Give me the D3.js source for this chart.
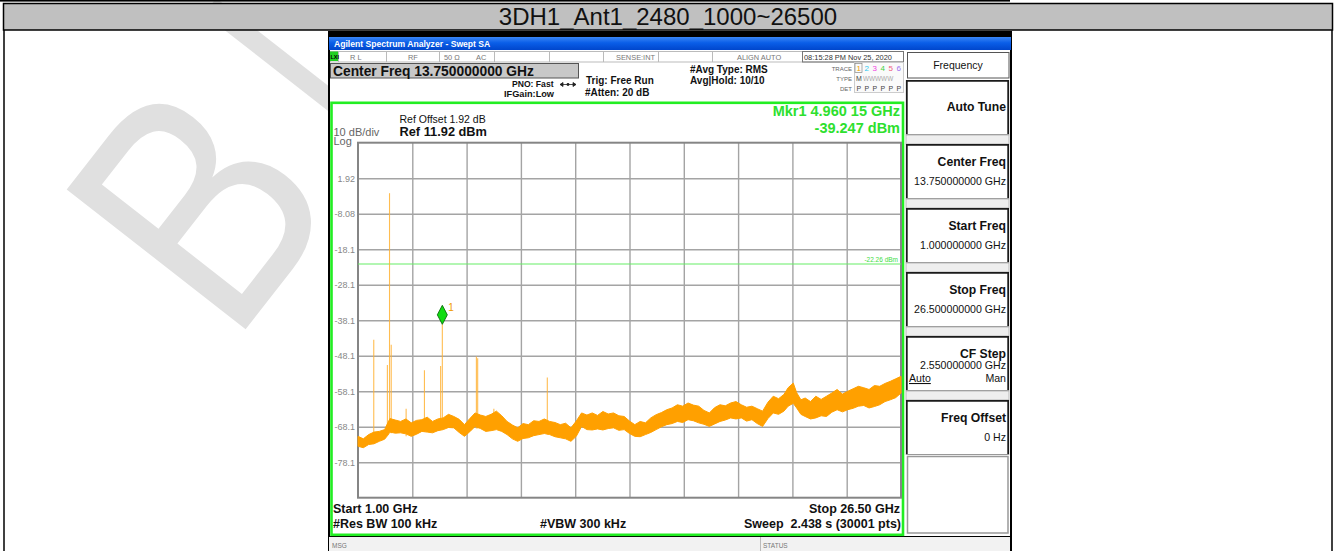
<!DOCTYPE html>
<html>
<head>
<meta charset="utf-8">
<script src="https://cdn.jsdelivr.net/npm/d3@7"></script>
<style>
body { margin: 0; background: #fff; }
svg { display: block; font-family: 'Liberation Sans', Arial, sans-serif; }
</style>
</head>
<body>
<svg width="1336" height="551"></svg>
<script>
// ---- values ----
const title = '3DH1_Ant1_2480_1000~26500';
const startGHz = 1.0, stopGHz = 26.5;
const refLevel = 11.92;          // dBm, top of grid
const yTickValues = [1.92, -8.08, -18.08, -28.08, -38.08, -48.08, -58.08, -68.08, -78.08];
const yTickLabels = ['1.92', '-8.08', '-18.1', '-28.1', '-38.1', '-48.1', '-58.1', '-68.1', '-78.1'];

// noise floor envelope (GHz, dBm)
const noiseFreq = [1.00, 1.25, 1.50, 1.75, 2.00, 2.25, 2.40, 2.50, 2.75, 3.00, 3.25, 3.50, 3.75, 4.00, 4.25, 4.50, 4.75,
  5.00, 5.25, 5.50, 5.75, 6.00, 6.25, 6.50, 6.75, 7.00, 7.25, 7.50, 7.75, 8.00, 8.25, 8.50, 8.75, 9.00, 9.25, 9.50, 9.75,
  10.00, 10.25, 10.50, 10.75, 11.00, 11.25, 11.50, 11.75, 12.00, 12.25, 12.50, 12.75, 13.00, 13.25, 13.50, 13.75,
  14.00, 14.25, 14.50, 14.75, 15.00, 15.25, 15.50, 15.75, 16.00, 16.25, 16.50, 16.75, 17.00, 17.25, 17.50, 17.75,
  18.00, 18.25, 18.50, 18.75, 19.00, 19.25, 19.50, 19.75, 20.00, 20.25, 20.50, 20.75, 21.00, 21.20, 21.44, 21.60, 21.80,
  22.00, 22.25, 22.50, 22.75, 23.00, 23.25, 23.50, 23.75, 24.00, 24.25, 24.50, 24.75, 25.00, 25.25, 25.50, 25.75,
  26.00, 26.25, 26.50];
const noiseTop = [-70.8, -71.5, -70.3, -69.6, -69.4, -68.9, -67.0, -65.8, -66.2, -66.6, -65.9, -67.0, -66.3, -66.1, -65.4, -66.6, -65.9,
  -65.6, -64.6, -65.2, -66.0, -67.5, -65.8, -64.2, -64.8, -65.2, -64.6, -63.7, -65.0, -66.6, -67.6, -68.4, -67.2, -67.5, -66.4, -66.6, -65.9,
  -66.6, -66.9, -67.5, -67.1, -68.4, -66.5, -64.2, -64.8, -64.2, -64.9, -63.8, -64.5, -64.2, -65.0, -65.2, -66.5,
  -67.5, -66.6, -67.0, -65.6, -64.7, -64.1, -63.3, -62.8, -61.9, -62.3, -61.4, -62.0, -62.3, -63.5, -64.2, -62.7,
  -61.9, -62.2, -61.4, -61.0, -61.9, -62.6, -62.3, -63.0, -63.7, -61.2, -59.5, -60.2, -59.0, -57.1, -55.8, -58.5, -60.5,
  -60.0, -61.0, -59.5, -60.4, -59.5, -58.6, -57.6, -58.9, -58.1, -57.4, -56.7, -57.1, -57.6, -56.5, -56.7, -55.9,
  -55.3, -54.6, -53.9];
const noiseBot = [-73.6, -74.0, -73.1, -72.9, -72.2, -71.6, -70.5, -69.6, -69.9, -69.8, -70.1, -70.8, -70.2, -69.4, -69.6, -69.8, -69.2,
  -68.9, -68.3, -68.4, -69.7, -70.8, -69.5, -68.0, -68.6, -69.4, -69.2, -68.9, -69.4, -70.3, -71.5, -72.2, -71.4, -71.2, -70.6, -70.3, -70.0,
  -70.3, -70.9, -71.2, -71.5, -72.2, -70.8, -68.0, -68.9, -69.0, -68.7, -69.0, -68.6, -68.4, -69.1, -68.9, -70.0,
  -70.8, -70.9, -70.3, -69.7, -68.9, -68.1, -67.5, -67.2, -66.6, -66.9, -66.1, -66.4, -67.0, -67.4, -68.0, -67.3,
  -66.6, -66.2, -65.6, -65.9, -65.6, -66.5, -66.1, -67.2, -68.0, -65.8, -64.2, -64.6, -63.7, -62.3, -61.5, -62.8, -64.6,
  -65.2, -65.9, -65.6, -65.0, -65.2, -64.0, -63.3, -63.9, -63.3, -62.9, -62.3, -62.1, -62.8, -62.4, -61.9, -61.0,
  -60.5, -59.9, -58.6];

// discrete spurs (GHz, peak dBm)
const spurFreq = [1.74, 2.38, 2.48, 2.56, 3.26, 4.12, 4.88, 4.96, 6.56, 6.62, 7.38, 9.89];
const spurPeak = [-43.6, -50.7, -2.3, -45.0, -63.0, -52.2, -51.0, -39.25, -48.3, -48.8, -63.0, -54.2];

const markerFreq = 4.96015, markerLevel = -39.247;
const displayLine = -22.26;

const keyTitles = ['Auto Tune', 'Center Freq', 'Start Freq', 'Stop Freq', 'CF Step', 'Freq Offset'];
const keyValues = ['', '13.750000000 GHz', '1.000000000 GHz', '26.500000000 GHz', '2.550000000 GHz', '0 Hz'];
const keyTops = [80, 144, 208, 272, 336, 400];

const traceColors = ['#f0a000', '#30c8f0', '#f040e0', '#40d040', '#f06080', '#a070f0'];

// ---- drawing ----
const svg = d3.select('svg');
const defs = svg.append('defs');
const grad = defs.append('linearGradient').attr('id', 'bar').attr('x1', 0).attr('x2', 0).attr('y1', 0).attr('y2', 1);
grad.append('stop').attr('offset', '0%').attr('stop-color', '#3a86f6');
grad.append('stop').attr('offset', '45%').attr('stop-color', '#0a5ee8');
grad.append('stop').attr('offset', '100%').attr('stop-color', '#0046cc');

// watermark behind everything (slightly squeezed glyphs, rotated)
const wm = svg.append('g').attr('transform', 'translate(229,350.5) rotate(-52)').attr('fill', '#e0e0e0').attr('font-size', 330);
wm.append('text').attr('transform', 'translate(4.5,0) scale(0.83,1)').text('B');
wm.append('text').attr('transform', 'translate(230,0) scale(0.65,1)').text('I');

// report table frame
svg.append('rect').attr('x', 0).attr('y', 0).attr('width', 1010).attr('height', 1.6).attr('fill', '#000');
svg.append('rect').attr('x', 3.5).attr('y', 3.5).attr('width', 1329).attr('height', 26.5)
  .attr('fill', '#c0c0c0').attr('stroke', '#000').attr('stroke-width', 1.5);
svg.append('text').attr('x', 668).attr('y', 25).attr('text-anchor', 'middle')
  .attr('font-size', 24).attr('fill', '#111').text(title);
svg.append('line').attr('x1', 4).attr('x2', 4).attr('y1', 30).attr('y2', 551).attr('stroke', '#000').attr('stroke-width', 1.5);
svg.append('line').attr('x1', 1332).attr('x2', 1332).attr('y1', 30).attr('y2', 551).attr('stroke', '#000').attr('stroke-width', 1.5);

// ---- analyzer screenshot ----
const sa = svg.append('g');
sa.append('rect').attr('x', 328).attr('y', 31).attr('width', 684).attr('height', 520).attr('fill', '#000');
sa.append('rect').attr('x', 329).attr('y', 37).attr('width', 682).attr('height', 13).attr('fill', 'url(#bar)');
sa.append('text').attr('x', 334).attr('y', 46.5).attr('font-size', 8.6).attr('font-weight', 'bold')
  .attr('fill', '#fff').text('Agilent Spectrum Analyzer - Swept SA');
sa.append('rect').attr('x', 330).attr('y', 50).attr('width', 680).attr('height', 486).attr('fill', '#fff');

// status row
sa.append('rect').attr('x', 330.5).attr('y', 51.5).attr('width', 573).attr('height', 10.5)
  .attr('fill', '#fff').attr('stroke', '#bbb');
[338, 386, 439, 494, 549, 603, 658, 712, 802].forEach(d => {
  sa.append('line').attr('x1', d + 0.5).attr('x2', d + 0.5).attr('y1', 51.5).attr('y2', 62).attr('stroke', '#bbb');
});
sa.append('rect').attr('x', 802.5).attr('y', 51.5).attr('width', 101).attr('height', 10.5).attr('fill', 'none').attr('stroke', '#777');
sa.append('rect').attr('x', 330).attr('y', 51.5).attr('width', 8).attr('height', 9.5).attr('fill', '#22d022');
sa.append('text').attr('x', 330.5).attr('y', 59).attr('font-size', 5.5).attr('font-weight', 'bold').attr('fill', '#000').text('LXI');
const statusTexts = [['R L', 350], ['RF', 408], ['50 Ω', 444], ['AC', 476], ['SENSE:INT', 616], ['ALIGN AUTO', 737], ['08:15:28 PM Nov 25, 2020', 804]];
statusTexts.forEach(d => {
  sa.append('text').attr('x', d[1]).attr('y', 59.5).attr('font-size', 7.4)
    .attr('fill', d[1] > 800 ? '#333' : '#777').text(d[0]);
});

// center freq box
sa.append('rect').attr('x', 330.5).attr('y', 63.5).attr('width', 248).attr('height', 14.5)
  .attr('fill', '#c8c8c8').attr('stroke', '#555');
sa.append('text').attr('x', 333).attr('y', 75.8).attr('font-size', 13.8).attr('font-weight', 'bold')
  .attr('fill', '#111').text('Center Freq 13.750000000 GHz');

const infoTexts = [
  ['PNO: Fast', 512, 87, 8.6], ['IFGain:Low', 504, 96.5, 9.2],
  ['Trig: Free Run', 586, 84.3, 10], ['#Atten: 20 dB', 585, 95.6, 10],
  ['#Avg Type: RMS', 690, 72.6, 10], ['Avg|Hold: 10/10', 690, 84.3, 10]
];
infoTexts.forEach(d => {
  sa.append('text').attr('x', d[1]).attr('y', d[2]).attr('font-size', d[3]).attr('font-weight', 'bold')
    .attr('fill', '#111').text(d[0]);
});
// PNO arrow
sa.append('path').attr('d', 'M560,84.5 L576,84.5 M560,84.5 l3,-2 v4 z M576,84.5 l-3,-2 v4 z')
  .attr('stroke', '#222').attr('stroke-width', 0.8).attr('fill', '#222');
sa.append('circle').attr('cx', 568).attr('cy', 84.5).attr('r', 1.4).attr('fill', '#222');

// trace indicator
[['TRACE', 68.5], ['TYPE', 78.5], ['DET', 89]].forEach(d => {
  sa.append('text').attr('x', 852).attr('y', d[1] + 2).attr('text-anchor', 'end')
    .attr('font-size', 6).attr('fill', '#666').text(d[0]);
});
sa.append('rect').attr('x', 854.5).attr('y', 62.5).attr('width', 49).attr('height', 30).attr('fill', '#fafafa').attr('stroke', '#ccc');
sa.append('rect').attr('x', 855).attr('y', 63.5).attr('width', 7).attr('height', 9).attr('fill', 'none').attr('stroke', '#888').attr('stroke-width', 0.7);
traceColors.forEach((c, i) => {
  sa.append('text').attr('x', 856.5 + i * 8).attr('y', 71).attr('font-size', 8).attr('fill', c).text(i + 1);
  sa.append('text').attr('x', 856.5 + i * 8).attr('y', 91).attr('font-size', 7).attr('fill', '#444').text('P');
});
sa.append('text').attr('x', 856).attr('y', 81).attr('font-size', 7).attr('fill', '#444').text('M');
sa.append('text').attr('x', 863).attr('y', 81).attr('font-size', 6.4).attr('fill', '#aaa').text('WWWWW');

// softkey panel
sa.append('rect').attr('x', 907.5).attr('y', 52.5).attr('width', 101.5).attr('height', 25.5).attr('fill', '#fff').attr('stroke', '#555');
sa.append('text').attr('x', 958).attr('y', 68.5).attr('text-anchor', 'middle').attr('font-size', 10.5).attr('fill', '#111').text('Frequency');
const keyH = 55;
keyTops.forEach((t, i) => {
  if (i > 0) {
    sa.append('rect').attr('x', 906).attr('y', keyTops[i - 1] + keyH).attr('width', 103).attr('height', t - keyTops[i - 1] - keyH)
      .attr('fill', '#eee').attr('stroke', '#aaa').attr('stroke-width', 0.8);
  }
  sa.append('rect').attr('x', 906).attr('y', t).attr('width', 103).attr('height', keyH).attr('fill', '#fff');
  sa.append('path').attr('d', `M906.8,${t + keyH} V${t + 0.8} H1008.2 V${t + keyH}`)
    .attr('fill', 'none').attr('stroke', '#1a1a1a').attr('stroke-width', 1.8);
  sa.append('line').attr('x1', 906).attr('x2', 1009).attr('y1', t + keyH - 0.5).attr('y2', t + keyH - 0.5).attr('stroke', '#999');
  const ty = i === 0 ? t + 31 : t + 22;
  sa.append('text').attr('x', 1006).attr('y', ty).attr('text-anchor', 'end').attr('font-size', 12.2)
    .attr('font-weight', 'bold').attr('fill', '#111').text(keyTitles[i]);
  if (keyValues[i]) {
    sa.append('text').attr('x', 1006).attr('y', i === 4 ? t + 33 : t + 41).attr('text-anchor', 'end')
      .attr('font-size', 10.6).attr('fill', '#111').text(keyValues[i]);
  }
});
const cf = keyTops[4];
sa.append('text').attr('x', 909).attr('y', cf + 46).attr('font-size', 10.6).attr('fill', '#111')
  .attr('text-decoration', 'underline').text('Auto');
sa.append('text').attr('x', 1006).attr('y', cf + 46).attr('text-anchor', 'end').attr('font-size', 10.6).attr('fill', '#111').text('Man');
sa.append('rect').attr('x', 907.5).attr('y', keyTops[5] + keyH + 1.5).attr('width', 100.5).attr('height', 533 - keyTops[5] - keyH - 1.5)
  .attr('fill', '#fff').attr('stroke', '#999').attr('stroke-width', 1.5);

// MSG row
sa.append('rect').attr('x', 329).attr('y', 537).attr('width', 681).attr('height', 14).attr('fill', '#f2f2f2');
sa.append('line').attr('x1', 760.5).attr('x2', 760.5).attr('y1', 537).attr('y2', 551).attr('stroke', '#bbb');
sa.append('text').attr('x', 332).attr('y', 547.5).attr('font-size', 6.5).attr('fill', '#777').text('MSG');
sa.append('text').attr('x', 763).attr('y', 547.5).attr('font-size', 6.5).attr('fill', '#777').text('STATUS');

// ---- measurement display ----
const x = d3.scaleLinear().domain([startGHz, stopGHz]).range([358, 901]);
const y = d3.scaleLinear().domain([refLevel - 100, refLevel]).range([497.7, 142.7]);
const plotW = 543, plotH = 355;
const xDivs = d3.range(1, 10).map(i => startGHz + i * (stopGHz - startGHz) / 10);

sa.append('rect').attr('x', 331.5).attr('y', 102.8).attr('width', 571.5).attr('height', 432)
  .attr('fill', '#fff').attr('stroke', '#22ee22').attr('stroke-width', 2.6);

const gridX = sa.append('g').attr('transform', `translate(0,${y.range()[0]})`)
  .call(d3.axisBottom(x).tickValues(xDivs).tickSize(-plotH).tickFormat(''));
const gridY = sa.append('g').attr('transform', 'translate(358,0)')
  .call(d3.axisLeft(y).tickValues(yTickValues).tickSize(-plotW).tickFormat(''));
[gridX, gridY].forEach(g => {
  g.select('.domain').remove();
  g.selectAll('line').attr('stroke', '#a4a4a4').attr('stroke-width', 1.4);
});
sa.append('rect').attr('x', 358).attr('y', 142.7).attr('width', plotW).attr('height', plotH)
  .attr('fill', 'none').attr('stroke', '#858585').attr('stroke-width', 2);

const yLab = sa.append('g').attr('transform', 'translate(355,0)')
  .call(d3.axisLeft(y).tickValues(yTickValues).tickSize(0).tickPadding(0).tickFormat((d, i) => yTickLabels[i]));
yLab.select('.domain').remove();
yLab.selectAll('text').attr('font-size', 9).attr('fill', '#888').attr('font-family', "'Liberation Sans', Arial, sans-serif");

sa.append('text').attr('x', 333.5).attr('y', 135.5).attr('font-size', 11).attr('fill', '#666').text('10 dB/div');
sa.append('text').attr('x', 333.5).attr('y', 145).attr('font-size', 11).attr('fill', '#666').text('Log');
sa.append('text').attr('x', 399.5).attr('y', 123).attr('font-size', 10.5).attr('fill', '#111').text('Ref Offset 1.92 dB');
sa.append('text').attr('x', 399.5).attr('y', 136).attr('font-size', 12.8).attr('font-weight', 'bold').attr('fill', '#111').text('Ref 11.92 dBm');
sa.append('text').attr('x', 900).attr('y', 116).attr('text-anchor', 'end').attr('font-size', 14.5).attr('font-weight', 'bold').attr('fill', '#2ee02e').text('Mkr1 4.960 15 GHz');
sa.append('text').attr('x', 900).attr('y', 132.5).attr('text-anchor', 'end').attr('font-size', 14.5).attr('font-weight', 'bold').attr('fill', '#2ee02e').text('-39.247 dBm');

// display line
sa.append('line').attr('x1', 358).attr('x2', 901).attr('y1', y(displayLine)).attr('y2', y(displayLine))
  .attr('stroke', '#66ee66').attr('stroke-width', 1.1);
sa.append('text').attr('x', 898).attr('y', y(displayLine) - 2.5).attr('text-anchor', 'end')
  .attr('font-size', 6.5).attr('fill', '#44dd44').text(displayLine.toFixed(2) + ' dBm');

// spurs
const noise = noiseFreq.map((f, i) => ({ f: f, top: noiseTop[i], bot: noiseBot[i] }));
spurFreq.forEach((f, i) => {
  const j = Math.min(d3.bisectLeft(noiseFreq, f), noise.length - 1);
  sa.append('line').attr('x1', x(f)).attr('x2', x(f)).attr('y1', y(spurPeak[i])).attr('y2', y(noise[j].bot))
    .attr('stroke', '#ffb233').attr('stroke-width', 1.1).attr('opacity', 0.85);
});

// noise floor band
const band = d3.area().x(d => x(d.f)).y0(d => y(d.bot)).y1(d => y(d.top));
sa.append('path').datum(noise).attr('d', band)
  .attr('fill', '#ffa000').attr('stroke', '#ffa000').attr('stroke-width', 1).attr('stroke-linejoin', 'bevel');

// marker
const mx = x(markerFreq), my = y(markerLevel);
sa.append('path').attr('d', `M${mx},${my} l-5,-9.5 l5,-9.5 l5,9.5 z`)
  .attr('fill', '#11dd11').attr('stroke', '#0a6a0a').attr('stroke-width', 0.9);
sa.append('text').attr('x', mx + 6).attr('y', my - 13).attr('font-size', 10).attr('fill', '#f09a00').text('1');

// bottom annotations
const bot = [
  ['Start 1.00 GHz', 333, 513, 'start'], ['Stop 26.50 GHz', 900, 513, 'end'],
  ['#Res BW 100 kHz', 333, 527.5, 'start'], ['#VBW 300 kHz', 540, 527.5, 'start'],
  ['Sweep  2.438 s (30001 pts)', 901, 527.5, 'end']
];
bot.forEach(d => {
  sa.append('text').attr('x', d[1]).attr('y', d[2]).attr('text-anchor', d[3]).attr('font-size', 12.5)
    .attr('font-weight', 'bold').attr('fill', '#111').style('white-space', 'pre').text(d[0]);
});
</script>
</body>
</html>
